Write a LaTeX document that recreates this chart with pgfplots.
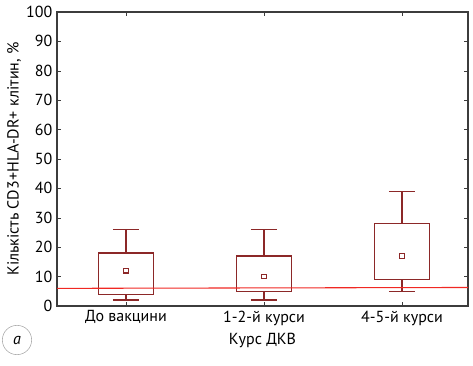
\documentclass[border=0pt]{standalone}
\usepackage{pgfplots}
\pgfplotsset{compat=1.18}
\usepackage{fontspec}
\setmainfont{PT Sans}
\definecolor{boxred}{RGB}{140,40,40}
\definecolor{linered}{RGB}{240,40,35}
\definecolor{frame}{RGB}{60,60,60}
\begin{document}
\begin{tikzpicture}
\useasboundingbox (-42.75pt,-45pt) rectangle (312pt,229.5pt);
\begin{axis}[
  scale only axis,
  width=308.25pt, height=220.5pt,
  xmin=-0.5, xmax=2.478,
  ymin=0, ymax=100,
  ytick={0,10,...,100},
  xtick={0,1,2},
  xticklabels={До вакцини, 1-2-й курси, 4-5-й курси},
  tick align=inside,
  major tick length=3pt,
  axis line style={frame, line width=0.8pt},
  tick style={frame},
  every tick label/.append style={font=\fontsize{12}{14}\selectfont},
  label style={font=\fontsize{12}{14}\selectfont},
  /pgf/number format/assume math mode=true,
  xlabel={Курс ДКВ},
  ylabel={Кількість CD3+HLA-DR+ клітин, \%},
  xlabel style={yshift=1pt},
  ylabel style={yshift=-3pt},
  unbounded coords=jump,
]
% boxes
\addplot[boxred, line width=1pt, line join=miter] coordinates {(-0.2,4) (0.2,4) (0.2,18) (-0.2,18) (-0.2,4) (0.2,4)};
\addplot[boxred, line width=1pt, line join=miter] coordinates {(0.8,5) (1.2,5) (1.2,17) (0.8,17) (0.8,5) (1.2,5)};
\addplot[boxred, line width=1pt, line join=miter] coordinates {(1.8,9) (2.2,9) (2.2,28) (1.8,28) (1.8,9) (2.2,9)};
% whiskers
\addplot[boxred, line width=1pt] coordinates {
  (0,18) (0,26) (0,nan) (-0.095,26) (0.095,26) (0,nan)
  (0,4) (0,2) (0,nan) (-0.095,2) (0.095,2) (0,nan)
  (1,17) (1,26) (1,nan) (0.905,26) (1.095,26) (1,nan)
  (1,5) (1,2) (1,nan) (0.905,2) (1.095,2) (1,nan)
  (2,28) (2,39) (2,nan) (1.905,39) (2.095,39) (2,nan)
  (2,9) (2,5) (2,nan) (1.905,5) (2.095,5)
};
% means
\addplot[only marks, mark=square, mark size=1.7pt, boxred, line width=0.9pt] coordinates {(0,12) (1,10) (2,17)};
\addplot[linered, line width=0.8pt] coordinates {(-0.5,6.0) (2.478,6.3)};
\end{axis}
\node[draw=gray!70, circle, minimum size=22pt, inner sep=0pt, font=\fontsize{12}{14}\selectfont\itshape] at (-30pt,-25.5pt) {a};
\end{tikzpicture}
\end{document}
